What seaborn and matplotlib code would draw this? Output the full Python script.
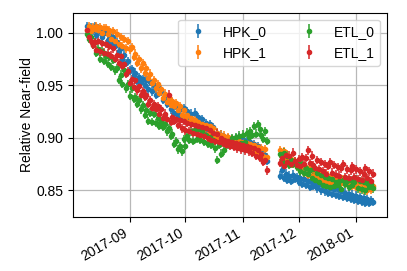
import numpy as np
import pandas as pd
import seaborn as sns
from matplotlib import pyplot as plt
from matplotlib.ticker import MultipleLocator, FormatStrFormatter

# ------------------------------------------------------------
# data (daily points, gap in mid Nov)
# ------------------------------------------------------------
dates = list(pd.date_range("2017-08-09", "2017-11-14", freq="D")) + \
        list(pd.date_range("2017-11-21", "2018-01-10", freq="D"))

hpk_0 = [
    1.006, 1.003, 1.005, 1.002, 1.006, 0.998, 1.004, 1.001, 0.996, 1.000,
    1.001, 0.993, 0.998, 0.990, 0.996, 0.987, 0.991, 0.982, 0.985, 0.975,
    0.979, 0.971, 0.973, 0.964, 0.965, 0.960, 0.962, 0.954, 0.958, 0.953,
    0.956, 0.950, 0.955, 0.946, 0.953, 0.944, 0.950, 0.941, 0.948, 0.943,
    0.944, 0.936, 0.939, 0.932, 0.936, 0.927, 0.934, 0.924, 0.930, 0.922,
    0.927, 0.919, 0.928, 0.918, 0.925, 0.916, 0.923, 0.915, 0.924, 0.913,
    0.920, 0.911, 0.918, 0.909, 0.914, 0.906, 0.913, 0.903, 0.910, 0.901,
    0.905, 0.899, 0.903, 0.897, 0.901, 0.895, 0.900, 0.896, 0.899, 0.893,
    0.900, 0.892, 0.901, 0.891, 0.898, 0.890, 0.897, 0.891, 0.896, 0.889,
    0.894, 0.886, 0.892, 0.885, 0.888, 0.881, 0.884, 0.878,
    0.864, 0.869, 0.862, 0.866, 0.860, 0.864, 0.859, 0.865, 0.861, 0.863,
    0.858, 0.862, 0.856, 0.861, 0.855, 0.859, 0.853, 0.858, 0.854, 0.857,
    0.852, 0.856, 0.850, 0.855, 0.849, 0.854, 0.848, 0.852, 0.847, 0.851,
    0.846, 0.851, 0.845, 0.849, 0.844, 0.848, 0.843, 0.847, 0.842, 0.846, 0.841,
    0.845, 0.840, 0.844, 0.839, 0.843, 0.838, 0.842, 0.838, 0.841, 0.839,
]

hpk_1 = [
    1.002, 1.006, 1.001, 1.005, 1.003, 1.006, 1.002, 1.005, 1.000, 1.004,
    1.004, 0.999, 1.002, 0.994, 1.001, 0.992, 0.999, 0.989, 0.996, 0.987,
    0.994, 0.985, 0.992, 0.984, 0.986, 0.977, 0.980, 0.971, 0.975, 0.966,
    0.971, 0.962, 0.966, 0.957, 0.961, 0.952, 0.955, 0.947, 0.951, 0.943,
    0.946, 0.938, 0.942, 0.934, 0.938, 0.931, 0.935, 0.930, 0.933, 0.926,
    0.930, 0.922, 0.926, 0.918, 0.922, 0.915, 0.919, 0.914, 0.917, 0.912,
    0.915, 0.910, 0.913, 0.908, 0.912, 0.904, 0.911, 0.902, 0.909, 0.900,
    0.905, 0.900, 0.903, 0.898, 0.902, 0.895, 0.901, 0.894, 0.899, 0.894,
    0.898, 0.893, 0.897, 0.892, 0.896, 0.891, 0.895, 0.890, 0.894, 0.889,
    0.893, 0.886, 0.891, 0.885, 0.890, 0.883, 0.889, 0.882,
    0.888, 0.883, 0.887, 0.879, 0.884, 0.877, 0.880, 0.875, 0.878, 0.873,
    0.876, 0.869, 0.874, 0.867, 0.872, 0.865, 0.871, 0.864, 0.869, 0.865,
    0.868, 0.863, 0.867, 0.860, 0.865, 0.859, 0.864, 0.857, 0.864, 0.858,
    0.862, 0.858, 0.862, 0.857, 0.861, 0.856, 0.860, 0.855, 0.859, 0.854, 0.858,
    0.853, 0.858, 0.852, 0.857, 0.851, 0.856, 0.850, 0.855, 0.851, 0.854,
]

etl_0 = [
    0.999, 0.994, 0.996, 0.988, 0.991, 0.981, 0.984, 0.975, 0.982, 0.973,
    0.978, 0.970, 0.977, 0.967, 0.974, 0.964, 0.966, 0.955, 0.960, 0.951,
    0.964, 0.947, 0.951, 0.940, 0.947, 0.937, 0.939, 0.932, 0.936, 0.927,
    0.931, 0.922, 0.926, 0.916, 0.924, 0.915, 0.923, 0.914, 0.919, 0.911,
    0.915, 0.910, 0.913, 0.906, 0.909, 0.902, 0.904, 0.894, 0.897, 0.889,
    0.892, 0.887, 0.899, 0.892, 0.902, 0.898, 0.906, 0.897, 0.907, 0.899,
    0.908, 0.898, 0.906, 0.896, 0.903, 0.894, 0.901, 0.893, 0.898, 0.890,
    0.879, 0.893, 0.885, 0.896, 0.888, 0.897, 0.893, 0.896, 0.900, 0.892,
    0.901, 0.893, 0.902, 0.895, 0.903, 0.896, 0.905, 0.901, 0.906, 0.903,
    0.911, 0.904, 0.913, 0.908, 0.903, 0.899, 0.906, 0.897,
    0.885, 0.878, 0.886, 0.876, 0.883, 0.874, 0.879, 0.875, 0.877, 0.872,
    0.876, 0.868, 0.875, 0.867, 0.871, 0.866, 0.869, 0.862, 0.870, 0.860,
    0.867, 0.858, 0.865, 0.855, 0.863, 0.854, 0.862, 0.853, 0.861, 0.854,
    0.858, 0.855, 0.859, 0.851, 0.860, 0.856, 0.859, 0.853, 0.860, 0.855, 0.858,
    0.861, 0.852, 0.859, 0.851, 0.858, 0.850, 0.857, 0.853, 0.856, 0.852,
]

etl_1 = [
    1.002, 0.996, 0.992, 0.988, 0.991, 0.983, 0.992, 0.982, 0.990, 0.981,
    0.989, 0.980, 0.987, 0.978, 0.985, 0.975, 0.979, 0.971, 0.978, 0.968,
    0.970, 0.961, 0.963, 0.952, 0.956, 0.948, 0.955, 0.945, 0.949, 0.941,
    0.944, 0.939, 0.941, 0.932, 0.936, 0.928, 0.932, 0.927, 0.930, 0.923,
    0.927, 0.919, 0.923, 0.918, 0.941, 0.915, 0.920, 0.916, 0.918, 0.912,
    0.917, 0.909, 0.916, 0.907, 0.914, 0.906, 0.913, 0.905, 0.912, 0.904,
    0.911, 0.903, 0.910, 0.902, 0.909, 0.900, 0.907, 0.898, 0.905, 0.897,
    0.904, 0.896, 0.900, 0.895, 0.898, 0.893, 0.897, 0.892, 0.896, 0.891,
    0.895, 0.890, 0.894, 0.889, 0.893, 0.888, 0.892, 0.887, 0.891, 0.886,
    0.890, 0.883, 0.888, 0.881, 0.885, 0.877, 0.879, 0.869,
    0.876, 0.881, 0.873, 0.884, 0.877, 0.883, 0.875, 0.886, 0.878, 0.874,
    0.880, 0.873, 0.882, 0.875, 0.881, 0.888, 0.876, 0.883, 0.874, 0.871,
    0.879, 0.870, 0.877, 0.868, 0.875, 0.866, 0.873, 0.877, 0.867, 0.874,
    0.865, 0.872, 0.864, 0.871, 0.875, 0.863, 0.870, 0.862, 0.869, 0.873, 0.863,
    0.870, 0.861, 0.868, 0.860, 0.866, 0.871, 0.862, 0.868, 0.859, 0.866,
]

series_names = ["HPK_0", "HPK_1", "ETL_0", "ETL_1"]
series_values = [hpk_0, hpk_1, etl_0, etl_1]
series_err = [0.004, 0.004, 0.004, 0.004]

# ------------------------------------------------------------
# style
# ------------------------------------------------------------
sns.set_style("ticks", {"axes.grid": True})
plt.rcParams["font.family"] = ["Liberation Sans", "DejaVu Sans"]
plt.rcParams.update({
    "font.size": 10,
    "axes.edgecolor": "black",
    "xtick.color": "black",
    "ytick.color": "black",
    "text.color": "black",
    "axes.labelcolor": "black",
    "grid.color": "#b8b8b8",
    "grid.linewidth": 0.9,
})
colors = sns.color_palette("tab10", 4)

fig, ax = plt.subplots(figsize=(4.07, 2.71), dpi=100)

for name, vals, err, c in zip(series_names, series_values, series_err, colors):
    ax.errorbar(dates, vals, yerr=err, fmt="o", color=c, markersize=3,
                elinewidth=1.1, capsize=0, label=name)

ax.yaxis.set_major_locator(MultipleLocator(0.05))
ax.yaxis.set_major_formatter(FormatStrFormatter("%.2f"))
ax.set_ylabel("Relative Near-field", fontsize=10, labelpad=1.5)
ax.tick_params(labelsize=10)
ax.legend(ncol=2, loc="upper right", fontsize=10)

fig.autofmt_xdate()
fig.subplots_adjust(left=0.179, right=0.951, bottom=0.201, top=0.953)
fig.savefig("out.png", dpi=100)
